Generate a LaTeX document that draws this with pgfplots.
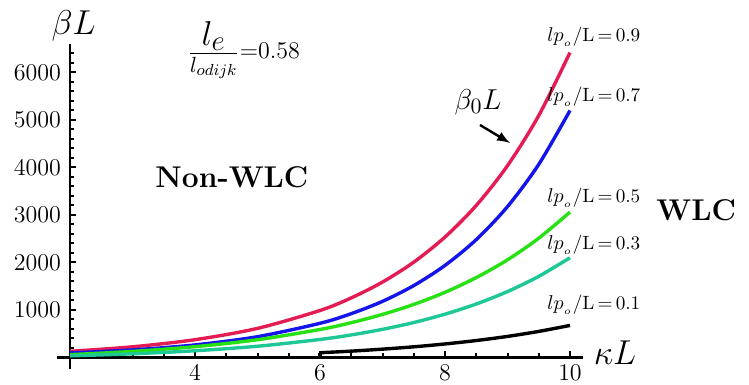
\documentclass[border=0pt]{standalone}
\usepackage{pgfplots}
\pgfplotsset{compat=1.18}
\usetikzlibrary{calc}
\definecolor{cred}{RGB}{228,28,84}
\definecolor{cblue}{RGB}{20,20,235}
\definecolor{cgreen}{RGB}{40,225,20}
\definecolor{cteal}{RGB}{30,200,150}
\newcommand{\lpl}[1]{\fontsize{9.6}{11}\selectfont$l p_{_{o}}$/L\,=\,#1}
\begin{document}
\begin{tikzpicture}
\begin{axis}[
  scale only axis,
  width=256.25pt, height=162.7pt,
  xmin=2, xmax=10.2, ymin=-250, ymax=6600,
  axis x line=middle, axis y line=left,
  axis line style={line width=1.2pt, -},
  xtick={4,6,8,10}, minor xtick={2.5,3,...,10},
  ytick={1000,2000,...,6000}, minor ytick={200,400,...,6400},
  tick align=inside,
  major tick length=3pt, minor tick length=2pt,
  every tick/.style={black, line width=1pt},
  scaled y ticks=false,
  /pgf/number format/1000 sep={},
  tick label style={font=\fontsize{12.5}{14}\selectfont},
  yticklabel style={xshift=-1pt},
  clip=false,
]
\coordinate (O) at (axis cs:2,0);
\draw[line width=1.2pt] (axis cs:1.8,0) -- (axis cs:2,0);
\draw[line width=1.2pt] (axis cs:2,-250) -- (axis cs:2,0);

\addplot[cred, line width=1.7pt, smooth] coordinates {
(2,130)(3,225)(4,375)(5,613)(6,990)(6.5,1255)(7,1588)(7.5,2007)(8,2536)(8.5,3201)(9,4038)(9.5,5094)(10,6420)};
\addplot[cblue, line width=1.7pt, smooth] coordinates {
(2,95)(3,160)(4,265)(5,438)(6,720)(6.5,923)(7,1182)(7.5,1514)(8,1939)(8.5,2481)(9,3177)(9.5,4066)(10,5200)};
\addplot[cgreen, line width=1.7pt, smooth] coordinates {
(2,60)(3,128)(4,228)(5,374)(6,590)(6.5,733)(7,907)(7.5,1117)(8,1372)(8.5,1682)(9,2056)(9.5,2511)(10,3061)};
\addplot[cteal, line width=1.7pt, smooth] coordinates {
(2,35)(3,78)(4,142)(5,237)(6,380)(6.5,475)(7,593)(7.5,736)(8,912)(8.5,1126)(9,1388)(9.5,1708)(10,2100)};
\addplot[black, line width=1.7pt] coordinates {(6,0)(6,100)};
\addplot[black, line width=1.7pt, smooth] coordinates {
(6,100)(6.5,134)(7,176)(7.5,225)(8,285)(8.5,357)(9,444)(9.5,549)(10,675)};

\node at (axis cs:2.06,6980) {\fontsize{16}{18}\selectfont$\beta L$};
\node at (axis cs:4.78,6470) {$\displaystyle\frac{\mbox{\fontsize{19}{21}\selectfont$l_{e}$}}{\mbox{\fontsize{11}{13}\selectfont$l_{odijk}$}}$\fontsize{12}{14}\selectfont=0.58};
\node at (axis cs:4.59,3800) {\fontsize{15}{17}\selectfont\bfseries Non-WLC};
\node at (axis cs:12.02,3105) {\fontsize{15}{17}\selectfont\bfseries WLC};
\node at (axis cs:10.72,95) {\fontsize{16}{18}\selectfont$\kappa L$};
\node at (axis cs:8.53,5379) {\fontsize{15}{17}\selectfont$\beta_{0}L$};
\draw[-latex, line width=1.2pt] (axis cs:8.56,4895) -- (axis cs:9.04,4516);
\node[anchor=base west, inner sep=0pt] at (axis cs:9.632,6642) {\lpl{0.9}};
\node[anchor=base west, inner sep=0pt] at (axis cs:9.632,5379) {\lpl{0.7}};
\node[anchor=base west, inner sep=0pt] at (axis cs:9.632,3253) {\lpl{0.5}};
\node[anchor=base west, inner sep=0pt] at (axis cs:9.632,2263) {\lpl{0.3}};
\node[anchor=base west, inner sep=0pt] at (axis cs:9.632,1000) {\lpl{0.1}};
\end{axis}
\pgfresetboundingbox
\useasboundingbox ($(O)+(-35pt,-13.75pt)$) rectangle ($(O)+(339.5pt,178.75pt)$);
\end{tikzpicture}
\end{document}
